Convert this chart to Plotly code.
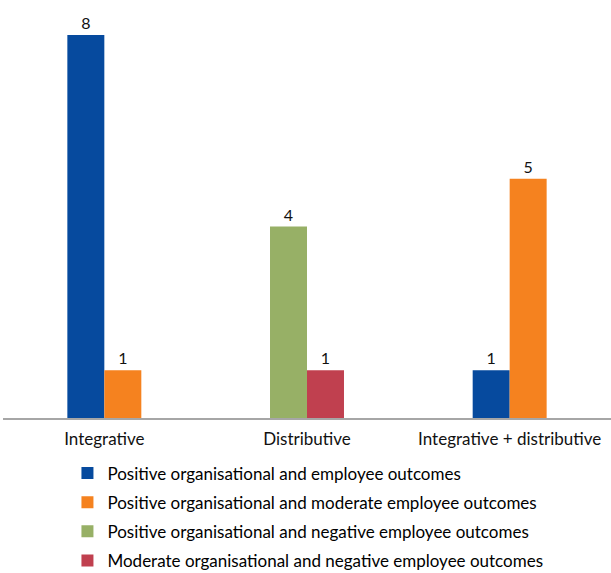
import plotly.graph_objects as go

categories = ["Integrative", "Distributive", "Integrative + distributive"]
series_names = [
    "Positive organisational and employee outcomes",
    "Positive organisational and moderate employee outcomes",
    "Positive organisational and negative employee outcomes",
    "Moderate organisational and negative employee outcomes",
]
pos_org_pos_emp = [8, None, 1]
pos_org_mod_emp = [1, None, 5]
pos_org_neg_emp = [None, 4, None]
mod_org_neg_emp = [None, 1, None]

colors = ["#064A9E", "#F5821F", "#97B066", "#C0404F"]
offsets = ["a", "b", "a", "b"]
values = [pos_org_pos_emp, pos_org_mod_emp, pos_org_neg_emp, mod_org_neg_emp]

FONT = "Lato"

fig = go.Figure()
for name, vals, col, og in zip(series_names, values, colors, offsets):
    fig.add_trace(go.Bar(
        x=categories, y=vals, name=name, offsetgroup=og, legendgroup=name,
        marker=dict(color=col, line=dict(width=0)),
        text=[("" if v is None else str(v)) for v in vals],
        textposition="outside", cliponaxis=False,
        textfont=dict(family=FONT, size=16, color="#111111"),
    ))

fig.update_layout(
    width=611, height=573,
    margin=dict(l=3, r=0, t=35, b=155, autoexpand=False),
    paper_bgcolor="white", plot_bgcolor="white",
    barmode="group", bargap=0.635, bargroupgap=0,
    showlegend=True,
    legend=dict(orientation="v", x=0.106, xanchor="left", y=-0.098, yanchor="top",
                font=dict(family=FONT, size=17, color="#000000"),
                tracegroupgap=4, bgcolor="rgba(0,0,0,0)"),
    font=dict(family=FONT, size=17, color="#111111"),
)
fig.update_xaxes(showline=True, linecolor="#A6A6A6", linewidth=1.5, ticks="",
                 automargin=False, ticklabelstandoff=5,
                 tickfont=dict(family=FONT, size=17, color="#111111"), showgrid=False)
fig.update_yaxes(range=[0, 8], visible=False, showgrid=False, zeroline=False,
                 automargin=False)

fig.write_html("out.html", config={"displayModeBar": False},
               post_script="document.body.style.margin='0px';")
